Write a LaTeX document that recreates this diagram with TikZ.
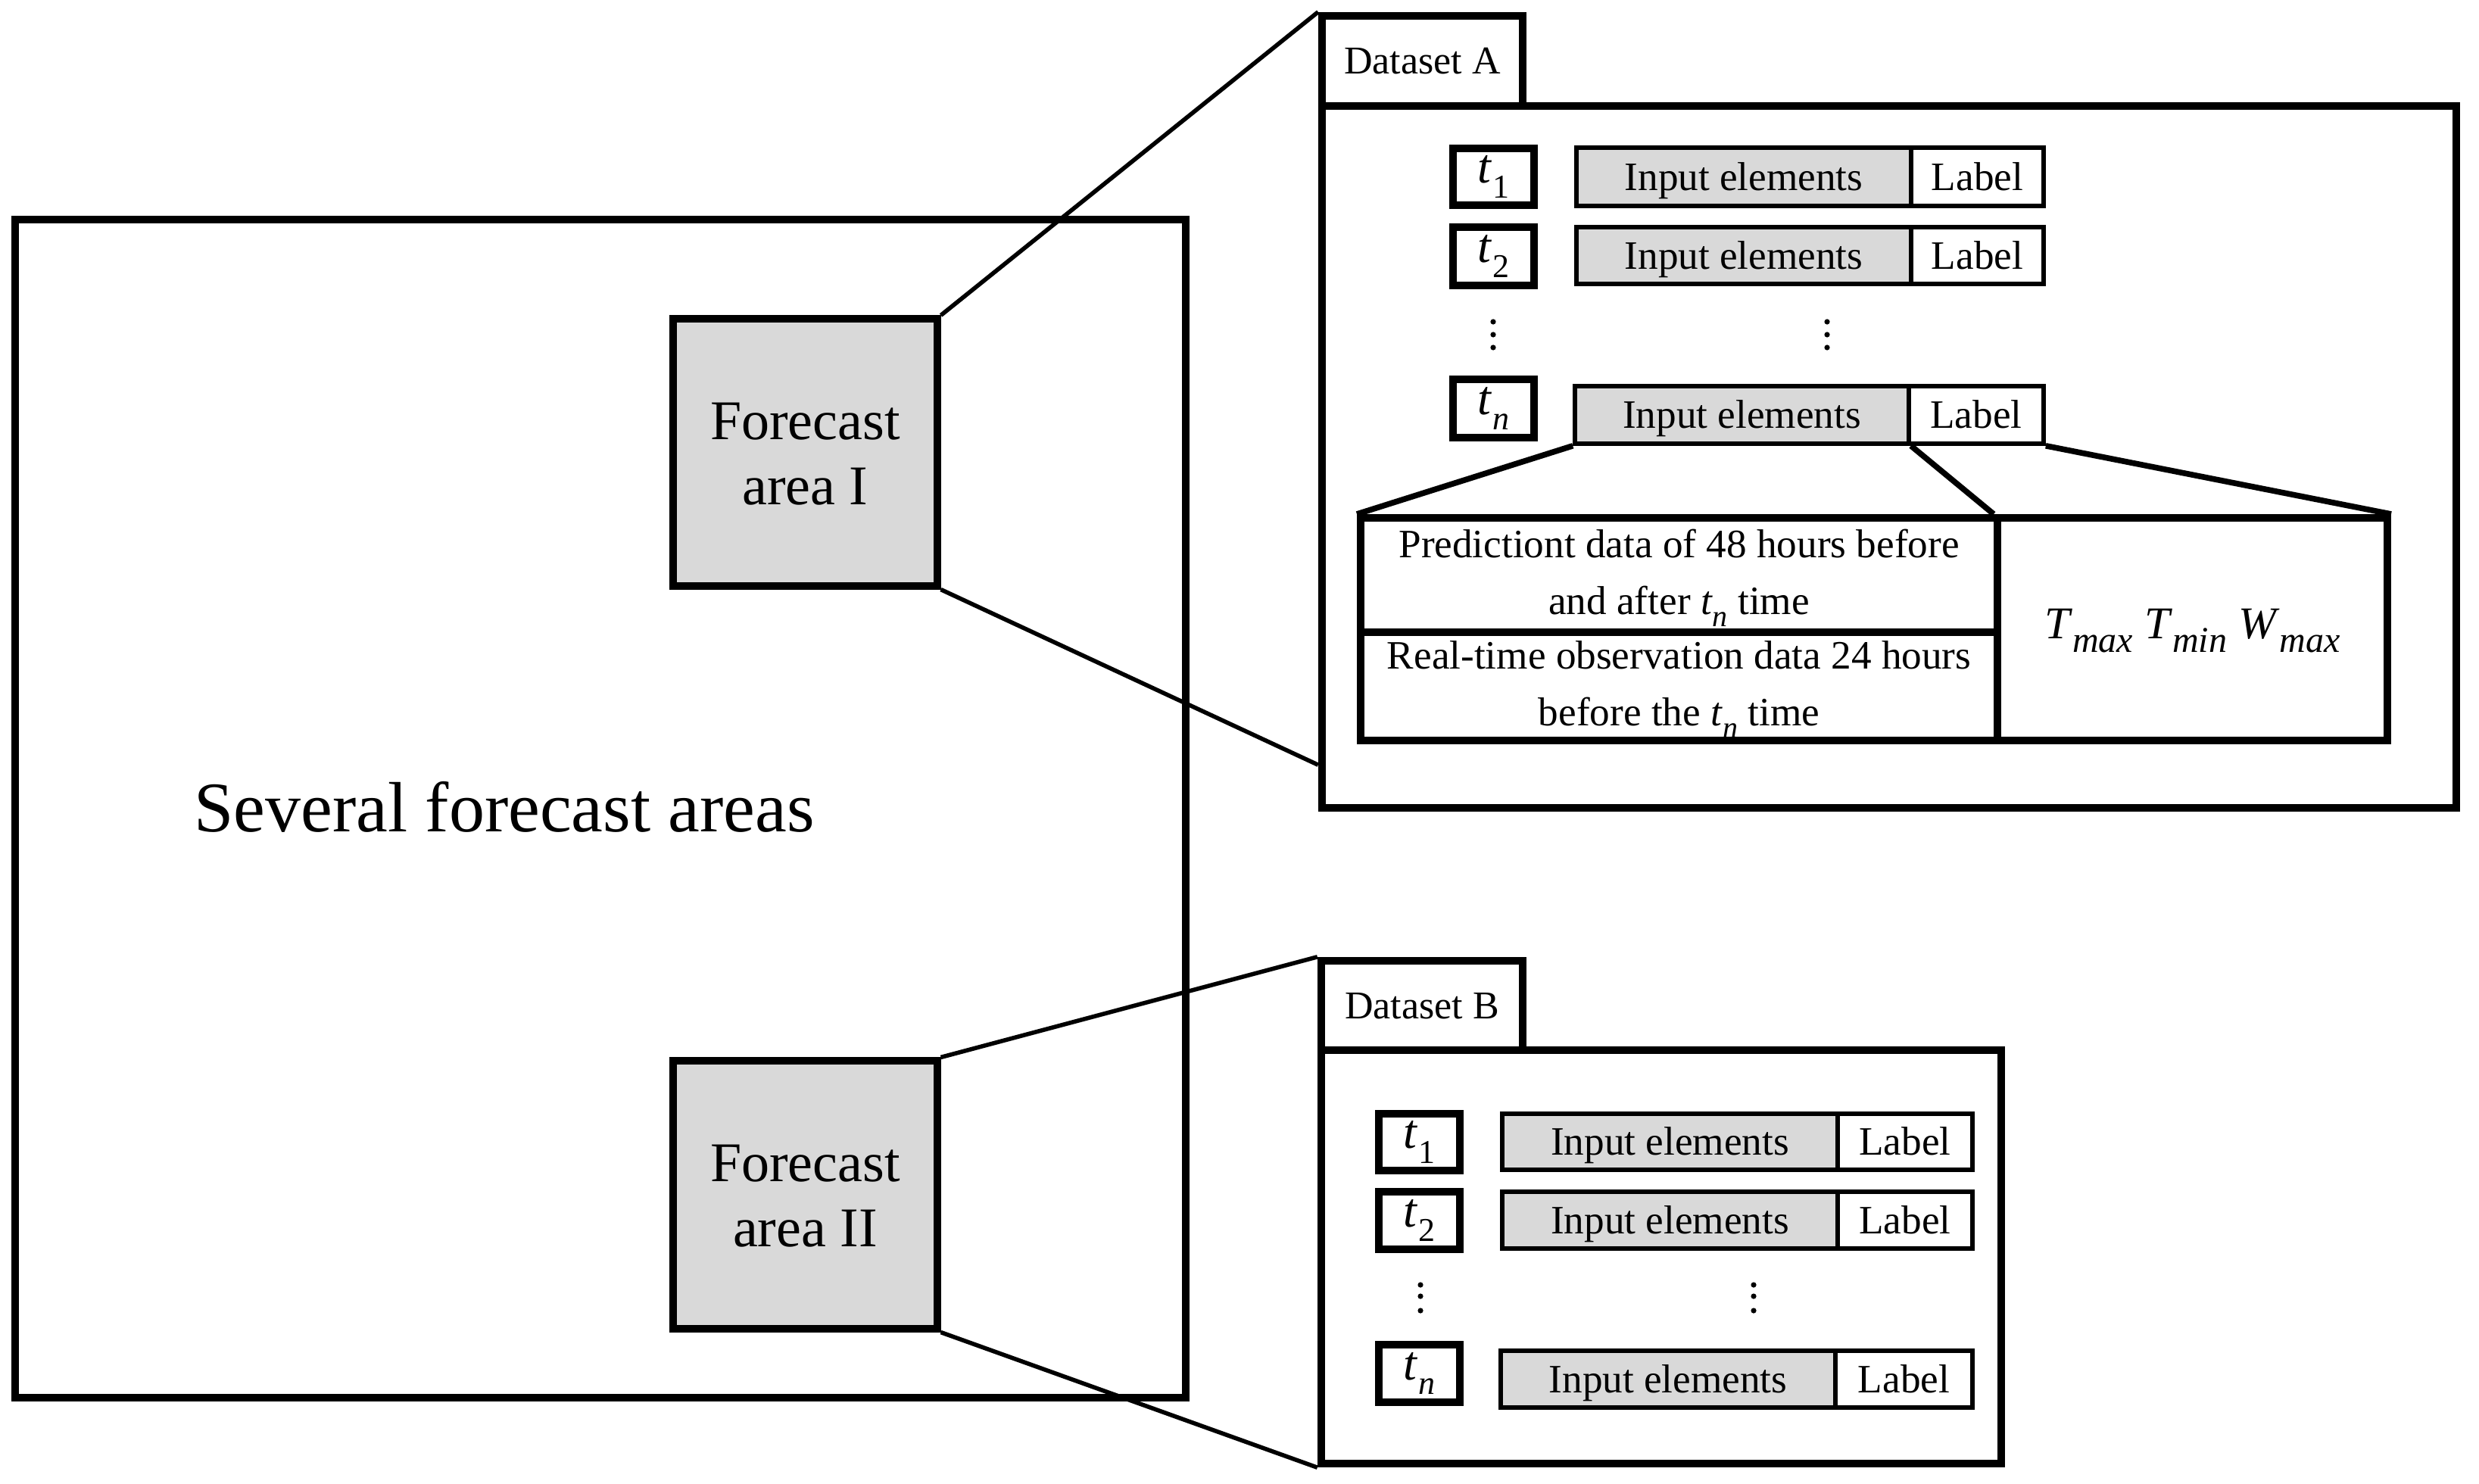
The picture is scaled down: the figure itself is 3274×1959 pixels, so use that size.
\documentclass[tikz,border=0pt]{standalone}
\usepackage{fontspec}
\setmainfont{Liberation Serif}
\usetikzlibrary{fit,calc}
\definecolor{cellgray}{RGB}{217,217,217}
\newcommand{\tvar}[1]{\textit{t}\raisebox{-0.3em}{\fontsize{11pt}{11pt}\selectfont #1}}
\newcommand{\tinl}{\textit{t}\raisebox{-0.3em}{\fontsize{10pt}{10pt}\selectfont\itshape n}}
\newcommand{\Tsb}[2]{\textit{#1}\raisebox{-0.3em}{\fontsize{12pt}{12pt}\selectfont\itshape #2}}
\begin{document}
\begin{tikzpicture}[x=0.25pt,y=-0.25pt]
\tikzset{
  bigbox/.style={draw, line width=2.3pt, inner sep=0pt},
  dsbox/.style={draw, line width=2.6pt, inner sep=0pt, fill=white},
  tbox/.style={draw, line width=2.6pt, inner sep=0pt},
  incell/.style={draw, line width=1.4pt, inner sep=0pt, fill=cellgray},
  lbcell/.style={draw, line width=1.4pt, inner sep=0pt, fill=white},
  tabcell/.style={draw, line width=2.5pt, inner sep=0pt},
  fabox/.style={draw, line width=2.3pt, fill=cellgray, inner sep=0pt},
  headtxt/.style={inner sep=0pt, font=\fontsize{13pt}{15pt}\selectfont, text height=8.6pt, text depth=0pt},
  celltxt/.style={inner sep=0pt, font=\fontsize{13.3pt}{16pt}\selectfont, text height=8.8pt, text depth=0pt},
  ttxt/.style={inner sep=0pt, font=\fontsize{16pt}{18pt}\selectfont},
  tabtxt/.style={inner sep=0pt, align=center, font=\fontsize{13.3pt}{18.75pt}\selectfont},
  fatxt/.style={inner sep=0pt, align=center, font=\fontsize{18.5pt}{21.5pt}\selectfont},
  zoomline/.style={line width=1.4pt},
  detline/.style={line width=1.9pt},
  vdot/.style={circle, fill=black, draw=none, inner sep=0pt, minimum size=1.8pt},
}
\useasboundingbox (0,0) rectangle (3274,1959);

% left: several forecast areas
\node[bigbox, fit={(20,290) (1566,1846)}] (areas) {};
\node[inner sep=0pt, font=\fontsize{23.5pt}{28pt}\selectfont] (areastxt) at (666,1066) {Several forecast areas};
\node[fabox, fit={(889,421) (1238,774)}] (fa1) {};
\node[fatxt] (fa1t) at ([yshift=-0.5pt]fa1.center) {Forecast\\area I};
\node[fabox, fit={(889,1401) (1238,1755)}] (fa2) {};
\node[fatxt] (fa2t) at ([yshift=-0.5pt]fa2.center) {Forecast\\area II};

% Dataset A
\node[dsbox, fit={(1746,140) (3244,1067)}] (dsA) {};
\node[dsbox, fit={(1746,21) (2011,140)}] (tabA) {};
\node[headtxt] (tabAt) at (tabA.center) {Dataset A};

\node[tbox, fit={(1919,196) (2026,271)}] (a1) {};
\node[ttxt] (a1t) at (a1.center) {\tvar{1}};
\node[incell, fit={(2082,195) (2524,272)}] (ai1) {};
\node[celltxt] (ai1t) at (ai1.center) {Input elements};
\node[lbcell, fit={(2524,195) (2699,272)}] (al1) {};
\node[celltxt] (al1t) at (al1.center) {Label};

\node[tbox, fit={(1919,300) (2026,377)}] (a2) {};
\node[ttxt] (a2t) at (a2.center) {\tvar{2}};
\node[incell, fit={(2082,300) (2524,375)}] (ai2) {};
\node[celltxt] (ai2t) at (ai2.center) {Input elements};
\node[lbcell, fit={(2524,300) (2699,375)}] (al2) {};
\node[celltxt] (al2t) at (al2.center) {Label};

\node[vdot] (ad1) at (1972,425) {};
\node[vdot] (ad2) at (1972,442) {};
\node[vdot] (ad3) at (1972,459) {};
\node[vdot] (ae1) at (2413,425) {};
\node[vdot] (ae2) at (2413,442) {};
\node[vdot] (ae3) at (2413,459) {};

\node[tbox, fit={(1919,501) (2026,578)}] (an) {};
\node[ttxt] (ant) at (an.center) {\tvar{\itshape n}};
\node[incell, fit={(2080,510) (2521,586)}] (ain) {};
\node[celltxt] (aint) at (ain.center) {Input elements};
\node[lbcell, fit={(2521,510) (2699,586)}] (aln) {};
\node[celltxt] (alnt) at (aln.center) {Label};

% detail table
\node[tabcell, fit={(1797,684) (2638,835)}] (pred) {};
\node[tabtxt] (predt) at ([yshift=-1pt]pred.center) {Predictiont data of 48 hours before\\and after \tinl\ time};
\node[tabcell, fit={(1797,835) (2638,978)}] (obs) {};
\node[tabtxt] (obst) at ([yshift=-1pt]obs.center) {Real-time observation data 24 hours\\before the \tinl\ time};
\node[tabcell, fit={(2638,684) (3153,978)}] (lab) {};
\node[inner sep=0pt, font=\fontsize{15pt}{18pt}\selectfont] (labt) at ([yshift=-0.5pt]lab.center) {\Tsb{T}{max} \Tsb{T}{min} \Tsb{W}{max}};

\draw[detline] (ain.south west) -- (pred.north west);
\draw[detline] (ain.south east) -- (lab.north west);
\draw[detline] (aln.south east) -- (lab.north east);

% Dataset B
\node[dsbox, fit={(1745,1387) (2643,1933)}] (dsB) {};
\node[dsbox, fit={(1745,1269) (2011,1387)}] (tabB) {};
\node[headtxt] (tabBt) at (tabB.center) {Dataset B};

\node[tbox, fit={(1821,1471) (1928,1546)}] (b1) {};
\node[ttxt] (b1t) at (b1.center) {\tvar{1}};
\node[incell, fit={(1984,1471) (2427,1545)}] (bi1) {};
\node[celltxt] (bi1t) at (bi1.center) {Input elements};
\node[lbcell, fit={(2427,1471) (2605,1545)}] (bl1) {};
\node[celltxt] (bl1t) at (bl1.center) {Label};

\node[tbox, fit={(1821,1574) (1928,1650)}] (b2) {};
\node[ttxt] (b2t) at (b2.center) {\tvar{2}};
\node[incell, fit={(1984,1574) (2427,1649)}] (bi2) {};
\node[celltxt] (bi2t) at (bi2.center) {Input elements};
\node[lbcell, fit={(2427,1574) (2605,1649)}] (bl2) {};
\node[celltxt] (bl2t) at (bl2.center) {Label};

\node[vdot] (bd1) at (1876,1697) {};
\node[vdot] (bd2) at (1876,1712) {};
\node[vdot] (bd3) at (1876,1731) {};
\node[vdot] (be1) at (2316,1697) {};
\node[vdot] (be2) at (2316,1712) {};
\node[vdot] (be3) at (2316,1731) {};

\node[tbox, fit={(1821,1776) (1928,1852)}] (bn) {};
\node[ttxt] (bnt) at (bn.center) {\tvar{\itshape n}};
\node[incell, fit={(1982,1784) (2424,1859)}] (bin) {};
\node[celltxt] (bint) at (bin.center) {Input elements};
\node[lbcell, fit={(2424,1784) (2605,1859)}] (bln) {};
\node[celltxt] (blnt) at (bln.center) {Label};

% zoom connectors
\coordinate (dsAin) at ([yshift=15.5pt]dsA.south west);
\draw[zoomline] (fa1.north east) -- (tabA.north west);
\draw[zoomline] (fa1.south east) -- (dsAin);
\draw[zoomline] (fa2.north east) -- (tabB.north west);
\draw[zoomline] (fa2.south east) -- (dsB.south west);
\end{tikzpicture}
\end{document}
